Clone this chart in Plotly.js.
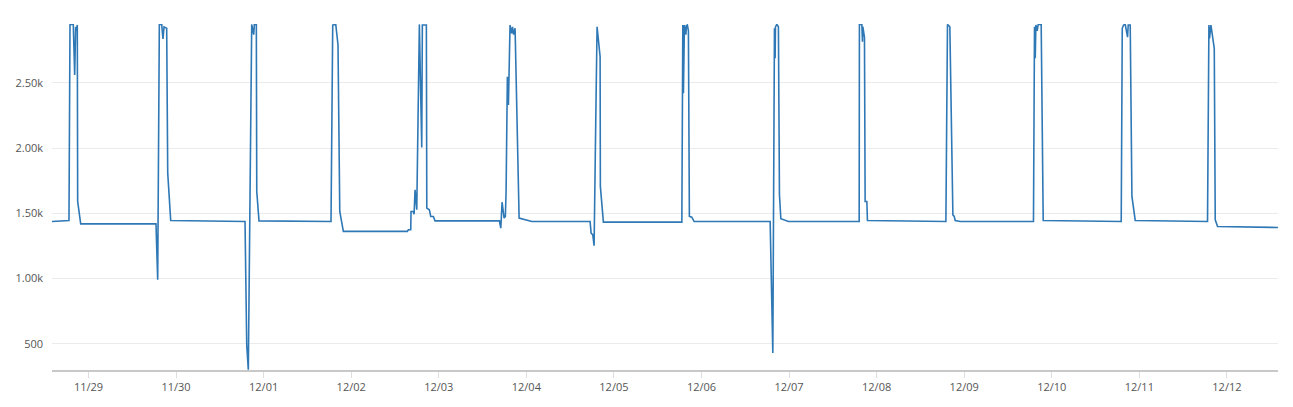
<!DOCTYPE html>
<html>
<head>
<meta charset="utf-8">
<script src="https://cdn.plot.ly/plotly-3.0.1.min.js"></script>
<style>
  html, body { margin: 0; padding: 0; background: #fff; }
  #chart { width: 1293px; height: 407px; }
</style>
</head>
<body>
<div id="chart"></div>
<script>
const times = [
  "2023-11-28 14:00","2023-11-28 18:39","2023-11-28 18:56","2023-11-28 19:50","2023-11-28 20:13","2023-11-28 20:29","2023-11-28 20:43","2023-11-28 20:56","2023-11-28 21:02","2023-11-28 21:52",
  "2023-11-29 18:30","2023-11-29 18:58","2023-11-29 19:25","2023-11-29 20:04","2023-11-29 20:25","2023-11-29 20:42","2023-11-29 21:26","2023-11-29 21:43","2023-11-29 22:32",
  "2023-11-30 18:54","2023-11-30 19:22","2023-11-30 19:48","2023-11-30 20:44","2023-11-30 21:17","2023-11-30 21:27","2023-11-30 22:00","2023-11-30 22:07","2023-11-30 22:44",
  "2023-12-01 18:28","2023-12-01 18:56","2023-12-01 19:46","2023-12-01 20:23","2023-12-01 20:52","2023-12-01 21:51",
  "2023-12-02 15:23","2023-12-02 15:40","2023-12-02 16:19","2023-12-02 16:24","2023-12-02 17:02","2023-12-02 17:14","2023-12-02 17:30","2023-12-02 17:58","2023-12-02 18:41","2023-12-02 19:20","2023-12-02 19:30","2023-12-02 20:36","2023-12-02 20:43","2023-12-02 21:25","2023-12-02 21:48","2023-12-02 22:31","2023-12-02 22:59",
  "2023-12-03 16:37","2023-12-03 17:00","2023-12-03 17:21","2023-12-03 17:54","2023-12-03 18:15","2023-12-03 18:27","2023-12-03 18:48","2023-12-03 19:05","2023-12-03 19:32","2023-12-03 19:57","2023-12-03 20:13","2023-12-03 20:30","2023-12-03 20:55","2023-12-03 22:01","2023-12-04 01:29",
  "2023-12-04 17:28","2023-12-04 17:45","2023-12-04 18:13","2023-12-04 18:34","2023-12-04 19:02","2023-12-04 19:07","2023-12-04 19:23","2023-12-04 20:13","2023-12-04 20:17","2023-12-04 21:07",
  "2023-12-05 18:37","2023-12-05 18:53","2023-12-05 19:03","2023-12-05 19:19","2023-12-05 19:43","2023-12-05 19:53","2023-12-05 20:08","2023-12-05 20:25","2023-12-05 20:41","2023-12-05 21:21","2023-12-05 21:59",
  "2023-12-06 18:49","2023-12-06 19:33","2023-12-06 20:00","2023-12-06 20:11","2023-12-06 20:16","2023-12-06 20:39","2023-12-06 21:05","2023-12-06 21:22","2023-12-06 21:45","2023-12-06 23:50",
  "2023-12-07 19:13","2023-12-07 19:17","2023-12-07 19:57","2023-12-07 20:07","2023-12-07 20:13","2023-12-07 20:40","2023-12-07 20:51","2023-12-07 21:19","2023-12-07 21:29",
  "2023-12-08 18:59","2023-12-08 19:25","2023-12-08 20:04","2023-12-08 20:54","2023-12-08 21:16","2023-12-08 21:32","2023-12-08 22:54",
  "2023-12-09 18:59","2023-12-09 19:16","2023-12-09 19:28","2023-12-09 19:39","2023-12-09 20:00","2023-12-09 20:17","2023-12-09 21:06","2023-12-09 21:39",
  "2023-12-10 19:02","2023-12-10 19:19","2023-12-10 19:40","2023-12-10 20:08","2023-12-10 20:46","2023-12-10 20:57","2023-12-10 21:30","2023-12-10 21:58","2023-12-10 22:52",
  "2023-12-11 18:41","2023-12-11 19:04","2023-12-11 19:14","2023-12-11 19:37","2023-12-11 20:32","2023-12-11 20:48","2023-12-11 21:26","2023-12-12 14:00"
];
const values = [
  1437,1445,2949,2949,2561,2930,2900,2945,1591,1419,
  1419,990,2949,2949,2837,2930,2920,1808,1445,
  1437,492,300,2949,2870,2949,2949,1667,1442,
  1437,2944,2949,2791,1514,1361,
  1361,1374,1374,1514,1514,1493,1680,1527,2949,2004,2944,2944,1540,1527,1476,1476,1442,
  1442,1386,1585,1463,1476,1667,2548,2331,2944,2880,2930,2870,2920,1463,1437,
  1437,1348,1335,1251,2229,2433,2931,2702,1706,1432,
  1432,2944,2421,2944,2870,2940,2944,2900,1476,1470,1437,
  1437,428,2919,2689,2930,2949,2931,1642,1458,1437,
  1437,2949,2949,2816,2931,2850,1591,1591,1445,
  1437,2949,2931,1488,1476,1445,1437,
  1437,2931,2689,2944,2900,2949,2949,1445,
  1437,2919,2944,2949,2851,2944,2944,1629,1445,
  1437,2944,2842,2944,2765,1450,1399,1391
];
const yTickVals = [500, 1000, 1500, 2000, 2500];
const yTickText = ["500", "1.00k", "1.50k", "2.00k", "2.50k"];

const trace = {
  x: times, y: values, type: "scatter", mode: "lines",
  line: { color: "#2f78b6", width: 1.6 },
  hoverinfo: "x+y"
};
const layout = {
  width: 1293, height: 407,
  margin: { l: 52, r: 15, t: 24, b: 37 },
  paper_bgcolor: "#ffffff", plot_bgcolor: "#ffffff",
  showlegend: false,
  font: { family: "Open Sans, Noto Sans, sans-serif", size: 11, color: "#555" },
  xaxis: {
    type: "date",
    range: ["2023-11-28 14:00", "2023-12-12 14:00"],
    tick0: "2023-11-29 00:00", dtick: 86400000,
    tickformat: "%m/%d",
    showgrid: false, zeroline: false,
    showline: true, linecolor: "#c8c8c8", linewidth: 2,
    ticks: "outside", ticklen: 6, tickcolor: "#dddddd", tickwidth: 1,
    tickfont: { size: 11, color: "#555" }
  },
  yaxis: {
    range: [298, 2952],
    tickvals: yTickVals, ticktext: yTickText,
    showgrid: true, gridcolor: "#ebebeb", gridwidth: 1,
    zeroline: false, showline: false, ticks: "",
    ticklabelstandoff: 8,
    tickfont: { size: 11, color: "#555" }
  }
};
Plotly.newPlot("chart", [trace], layout, { displayModeBar: false, staticPlot: true });
</script>
</body>
</html>
